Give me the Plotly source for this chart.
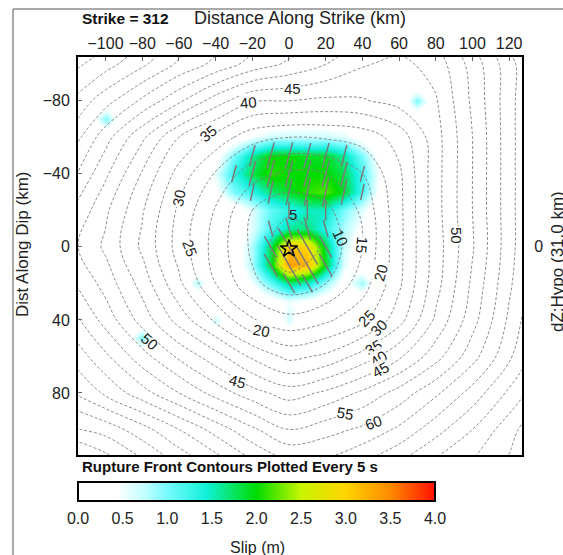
import numpy as np
import plotly.graph_objects as go

# ---------------- data ----------------
# slip (m) on a 10 km block around the hypocentre
blk_x = [-50, -40, -30, -20, -10, 0, 10, 20, 30, 40, 50, 60]
blk_y = [-70, -60, -50, -40, -30, -20, -10, 0, 10, 20, 30]
slip_block = [
    [0.0, 0.0, 0.0, 0.0, 0.1, 0.2, 0.2, 0.2, 0.1, 0.0, 0.0, 0.0],
    [0.0, 0.0, 0.2, 0.5, 0.7, 0.7, 0.7, 0.7, 0.6, 0.3, 0.0, 0.0],
    [0.0, 0.3, 1.0, 1.6, 2.0, 2.0, 1.9, 1.9, 1.6, 1.0, 0.3, 0.0],
    [0.0, 0.6, 1.3, 1.8, 2.1, 2.0, 2.0, 2.0, 1.8, 1.2, 0.4, 0.0],
    [0.0, 0.4, 1.0, 1.3, 1.7, 1.9, 2.1, 2.2, 1.9, 1.2, 0.3, 0.0],
    [0.0, 0.0, 0.2, 0.6, 1.1, 1.3, 1.5, 1.5, 1.0, 0.6, 0.1, 0.0],
    [0.0, 0.0, 0.1, 0.6, 1.2, 1.6, 1.7, 1.3, 0.8, 0.4, 0.0, 0.0],
    [0.0, 0.0, 0.2, 0.8, 1.8, 3.1, 3.0, 1.8, 0.7, 0.2, 0.0, 0.0],
    [0.0, 0.0, 0.2, 0.8, 1.9, 3.4, 3.2, 1.9, 0.6, 0.1, 0.0, 0.0],
    [0.0, 0.0, 0.0, 0.5, 1.1, 1.7, 1.5, 0.9, 0.3, 0.9, 0.0, 0.0],
    [0.0, 0.0, 0.0, 0.1, 0.3, 0.5, 0.4, 0.2, 0.1, 0.0, 0.0, 0.0],
]
# rake tilt of slip vectors per block row (deg from vertical, + = top leans right)
rake_tilt = [15, 15, 15, 15, 12, 0, -15, -30, -30, -30, -30]
# small isolated slip spots
spot_x = [-100, 70, -80, -50, -40, 0]
spot_y = [-70, -80, 50, 20, 40, 40]
spot_s = [1.0, 1.0, 1.0, 0.8, 0.7, 0.7]

# rupture time (s) on a 20 km grid
t_x = [-120, -100, -80, -60, -40, -20, 0, 20, 40, 60, 80, 100, 120, 140]
t_y = [-120, -100, -80, -60, -40, -20, 0, 20, 40, 60, 80, 100, 120]
t_grid = [
    [94, 89, 83, 76, 70, 65, 61, 57, 52, 50, 53, 63, 74, 85],
    [87, 82, 76, 69, 63.5, 58, 54, 50, 45.5, 43.5, 47, 57, 68, 79],
    [80, 72, 64, 56, 47.5, 40.5, 40, 39, 39.5, 42, 44.5, 56, 68, 80],
    [74, 62, 51, 40, 33, 27, 25, 25.5, 27, 32, 43, 55, 68, 80],
    [67.5, 56, 44.5, 33, 24.5, 17, 14, 15, 20, 29, 43, 55, 68, 80],
    [61, 51, 40.5, 29, 19.5, 10, 6, 8.5, 16, 28.5, 43, 55, 68, 80],
    [57, 49, 39, 28, 18, 9, 0.5, 6, 15, 28.5, 42.5, 54.5, 68, 80],
    [61.5, 53, 43, 31, 20, 11, 7, 10, 17.5, 29, 43, 56, 69, 81],
    [68, 58, 48, 38, 29, 20.5, 16.5, 19, 23.5, 33, 46, 58, 71, 83],
    [74.5, 66, 57, 49, 42, 34, 28.5, 31, 37, 44, 53, 63, 74, 85],
    [81, 74, 67, 60, 53, 47, 42.5, 46, 51, 57, 64, 72, 81, 90],
    [91, 88, 82, 75, 68, 61, 55, 58, 61, 66, 73, 80, 88, 96],
    [107, 99, 92, 85, 79, 72, 67, 67, 71, 76, 82, 86, 91, 100],
]

# contour labels
lab_text = ["5", "10", "15", "20", "25", "30", "35", "40", "45", "50",
            "20", "25", "30", "35", "40", "45", "45", "50", "55", "60"]
lab_x = [2, 28, 40, 50, -54, -60, -44, -22, 2, 91,
         -15, 42, 49, 46, 49, 50, -28, -76, 31, 46]
lab_y = [-18, -5, -1, 14, 1, -27, -62, -79, -87, -6,
         46, 39, 44, 55, 61, 67, 74, 52, 91, 96]
lab_ang = [0, 65, 95, -75, 70, -80, -40, -5, 0, 90,
           10, -45, -45, -30, -35, -30, 15, 40, 10, -20]

hypo_x = [0]
hypo_y = [1]

x_ticks = [-100, -80, -60, -40, -20, 0, 20, 40, 60, 80, 100, 120]
x_ticktext = ["\u2212100", "\u221280", "\u221260", "\u221240", "\u221220", "0",
              "20", "40", "60", "80", "100", "120"]
y_ticks = [-80, -40, 0, 40, 80]
y_ticktext = ["\u221280", "\u221240", "0", "40", "80"]
cb_ticks = [0, 0.5, 1, 1.5, 2, 2.5, 3, 3.5, 4]
cb_ticktext = ["0.0", "0.5", "1.0", "1.5", "2.0", "2.5", "3.0", "3.5", "4.0"]

# ---------------- build grids ----------------
gx = np.arange(-120, 131, 10)
gy = np.arange(-110, 121, 10)
slip = np.zeros((len(gy), len(gx)))
ox = int(np.where(gx == blk_x[0])[0][0])
oy = int(np.where(gy == blk_y[0])[0][0])
sb = np.array(slip_block)
slip[oy:oy + sb.shape[0], ox:ox + sb.shape[1]] = sb
for sx, sy, ss in zip(spot_x, spot_y, spot_s):
    i = int(np.where(gy == sy)[0][0]); j = int(np.where(gx == sx)[0][0])
    slip[i, j] = max(slip[i, j], ss)

colorscale = [
    [0.0, "#ffffff"], [0.11, "#ffffff"], [0.18, "#c8ffff"], [0.25, "#78fbff"],
    [0.36, "#10f0d8"], [0.5, "#00dc00"], [0.625, "#c8f500"], [0.75, "#ffd400"],
    [0.875, "#ff8a00"], [1.0, "#ff1000"],
]

VEC = 7.5
seg_x, seg_y = [], []
for i, yv in enumerate(blk_y):
    ang = np.deg2rad(rake_tilt[i])
    for j, xv in enumerate(blk_x):
        s = slip_block[i][j]
        if s < 1.2:
            continue
        half = 0.5 * s * VEC
        dx = half * np.sin(ang)
        dy = -half * np.cos(ang)
        seg_x += [xv - dx, xv + dx, None]
        seg_y += [yv - dy, yv + dy, None]

fig = go.Figure()
fig.add_trace(go.Heatmap(
    x=gx, y=gy, z=slip, zmin=0, zmax=4, zsmooth="best", colorscale=colorscale,
    hoverinfo="skip",
    colorbar=dict(orientation="h", x=0, xanchor="left", len=357 / 444, lenmode="fraction",
                  y=-0.068, yanchor="top", thickness=19, outlinewidth=2, outlinecolor="black",
                  xpad=0, ypad=0, ticks="outside", ticklen=3, tickcolor="rgba(0,0,0,0)",
                  tickvals=cb_ticks, ticktext=cb_ticktext,
                  tickfont=dict(size=16, color="#222")),
))
fig.add_trace(go.Contour(
    x=t_x, y=t_y, z=t_grid, showscale=False, hoverinfo="skip",
    contours=dict(start=5, end=110, size=5, coloring="none", showlabels=False),
    line=dict(color="#808080", dash="3px,2px", width=0.9, smoothing=1.0),
))
fig.add_trace(go.Scatter(x=seg_x, y=seg_y, mode="lines",
                         line=dict(color="#7a7a7a", width=1.5), hoverinfo="skip"))
fig.add_trace(go.Scatter(x=hypo_x, y=hypo_y, mode="markers",
                         marker=dict(symbol="star-open", size=13, color="black",
                                     line=dict(width=1.5, color="black")),
                         hoverinfo="skip"))
fig.add_trace(go.Scatter(x=hypo_x, y=hypo_y, yaxis="y2", mode="markers",
                         marker=dict(opacity=0), hoverinfo="skip"))

for t, x, y, a in zip(lab_text, lab_x, lab_y, lab_ang):
    i = int(np.argmin(np.abs(gy - y))); j = int(np.argmin(np.abs(gx - x)))
    bg = "rgba(255,255,255,0.9)" if slip[i, j] < 0.4 else "rgba(0,0,0,0)"
    fig.add_annotation(x=x, y=y, text=t, textangle=a, showarrow=False, bgcolor=bg,
                       borderpad=0, font=dict(size=15, color="#222"))

PL, PR, PT, PB = 78, 522, 57, 455
W, H = 563, 555
def px2paper(px, py):
    return (px - PL) / (PR - PL), (PB - py) / (PB - PT)

def paper_text(px, py, text, size, angle=0, xanchor="center", color="#222"):
    x, y = px2paper(px, py)
    fig.add_annotation(x=x, y=y, xref="paper", yref="paper", text=text, textangle=angle,
                       xanchor=xanchor, yanchor="middle", showarrow=False,
                       font=dict(size=size, color=color))

paper_text(300, 18, "Distance Along Strike (km)", 18)
paper_text(80, 19, "<b>Strike = 312</b>", 15.5, xanchor="left", color="#111")
paper_text(22, 245, "Dist Along Dip (km)", 17, angle=-90)
paper_text(557, 262, "dZ:Hypo (31.0 km)", 17, angle=-90)
paper_text(80, 467, "<b>Rupture Front Contours Plotted Every 5 s</b>", 15, xanchor="left", color="#111")
paper_text(257, 547, "Slip (m)", 16)

f0x, f0y = px2paper(13, 9)
fig.add_shape(type="rect", xref="paper", yref="paper", x0=f0x, y0=-0.4, x1=1.3, y1=f0y,
              line=dict(color="#555", width=1), fillcolor="rgba(0,0,0,0)", layer="below")

fig.update_layout(
    width=W, height=H, margin=dict(l=PL, r=W - PR, t=PT, b=H - PB, autoexpand=False),
    paper_bgcolor="white", plot_bgcolor="white", showlegend=False,
    font=dict(family="Liberation Sans, Arial, sans-serif", color="#222"),
    xaxis=dict(range=[-115, 127], side="top", tickvals=x_ticks, ticktext=x_ticktext,
               tickfont=dict(size=16), ticks="inside", ticklen=4, tickcolor="#666",
               showline=True, mirror=True, linecolor="black", linewidth=2,
               showgrid=False, zeroline=False, ticklabelstandoff=0, automargin=False),
    yaxis=dict(range=[114, -104], tickvals=y_ticks, ticktext=y_ticktext,
               tickfont=dict(size=16), ticks="inside", ticklen=4, tickcolor="#666",
               showline=True, mirror=True, linecolor="black", linewidth=2,
               showgrid=False, zeroline=False, ticklabelstandoff=3, automargin=False),
    yaxis2=dict(range=[114, -104], overlaying="y", side="right", tickvals=[0],
                ticktext=["0"], tickfont=dict(size=16), ticks="outside", ticklen=8,
                tickcolor="rgba(0,0,0,0)", showgrid=False, zeroline=False, showline=False,
                automargin=False),
)
fig.write_html("out.html", config={"displayModeBar": False})

# remove the browser's default page margin so the figure sits at the window origin
with open("out.html", "r", encoding="utf-8") as fh:
    html = fh.read()
html = html.replace("<head>", "<head><style>html,body{margin:0;padding:0;overflow:hidden;}</style>", 1)
with open("out.html", "w", encoding="utf-8") as fh:
    fh.write(html)
